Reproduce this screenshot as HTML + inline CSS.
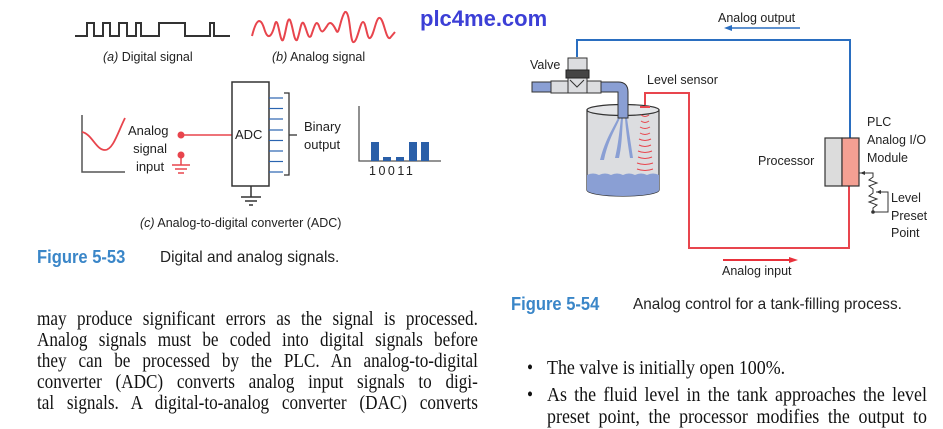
<!DOCTYPE html>
<html><head><meta charset="utf-8"><style>
body{margin:0;background:#fff;width:943px;height:422px;overflow:hidden;position:relative;font-family:"Liberation Sans",sans-serif}
.t{position:absolute;white-space:nowrap}
.s{font-family:"Liberation Sans",sans-serif;font-size:12.5px;color:#222}
.cap{font-family:"Liberation Sans",sans-serif;font-size:16px;color:#222;transform:scaleX(.96);transform-origin:left}
.fig{color:#3a86c8;font-weight:bold;font-size:18px;transform:scaleX(.92);transform-origin:left}
.bl{position:absolute;font-family:"Liberation Serif",serif;font-size:19.5px;color:#111;white-space:nowrap;transform:scaleX(.88);transform-origin:left}
.jl{width:501px;text-align:justify;text-align-last:justify}
</style></head><body>
<svg width="943" height="422" style="position:absolute;left:0;top:0">
<polyline fill="none" stroke="#333" stroke-width="2" points="75,36 87,36 87,23 94,23 94,36 103,36 103,23 110,23 110,36 119,36 119,23 127,23 127,36 136,36 136,23 141,23 141,36 159,36 159,23 185,23 185,36 210,36 210,23 214,23 214,36 230,36"/>
<path fill="none" stroke="#e8454d" stroke-width="2" d="M252,36 C256,20 260,16 264,28 C268,42 272,36 275,24 C278,14 280,44 283,40 C286,34 287,16 290,20 C293,26 294,42 297,40 C300,34 301,18 304,24 C307,30 308,40 311,36 C314,28 316,18 319,26 C322,36 324,30 327,26 C330,20 333,24 336,30 C339,38 340,18 345,12 C350,10 350,40 353,42 C357,44 360,22 363,22 C366,22 367,40 370,38 C374,36 376,16 380,18 C384,20 386,40 390,38 L395,32"/>
<polyline fill="none" stroke="#555" stroke-width="1.5" points="82,115 82,172 125,172"/>
<path fill="none" stroke="#e8454d" stroke-width="1.8" d="M82,132 C92,134 96,150 105,150 C113,150 118,132 125,118"/>
<circle cx="181" cy="135" r="3.5" fill="#e8454d"/><circle cx="181" cy="155" r="3.5" fill="#e8454d"/>
<line x1="181" y1="135" x2="232" y2="135" stroke="#e8454d" stroke-width="1.5"/>
<line x1="181" y1="155" x2="181" y2="165" stroke="#e8454d" stroke-width="1.5"/>
<g stroke="#e8454d" stroke-width="1.5"><line x1="172" y1="165" x2="190" y2="165"/><line x1="175" y1="169" x2="187" y2="169"/><line x1="178" y1="173" x2="184" y2="173"/></g>
<rect x="232" y="82" width="37" height="104" fill="#fff" stroke="#333" stroke-width="1.5"/>
<line x1="251" y1="186" x2="251" y2="197" stroke="#333" stroke-width="1.5"/>
<g stroke="#333" stroke-width="1.5"><line x1="241" y1="197" x2="261" y2="197"/><line x1="245" y1="201" x2="257" y2="201"/><line x1="249" y1="205" x2="253" y2="205"/></g>
<g stroke="#2a64b0" stroke-width="1.2"><line x1="269" y1="98" x2="283" y2="98"/><line x1="269" y1="108.5" x2="283" y2="108.5"/><line x1="269" y1="119" x2="283" y2="119"/><line x1="269" y1="130" x2="283" y2="130"/><line x1="269" y1="140.5" x2="283" y2="140.5"/><line x1="269" y1="151" x2="283" y2="151"/><line x1="269" y1="161.5" x2="283" y2="161.5"/><line x1="269" y1="172" x2="283" y2="172"/></g>
<polyline fill="none" stroke="#333" stroke-width="1.3" points="284,93 289,93 289,175 284,175"/>
<line x1="289" y1="135" x2="297" y2="135" stroke="#333" stroke-width="1.3"/>
<polyline fill="none" stroke="#555" stroke-width="1.3" points="359,106 359,161 441,161"/>
<g fill="#2a5fa8"><rect x="371" y="142" width="8" height="19"/><rect x="383" y="157" width="8" height="4"/><rect x="396" y="157" width="8" height="4"/><rect x="409" y="142" width="8" height="19"/><rect x="421" y="142" width="8" height="19"/></g>
<polyline fill="none" stroke="#2a6ec0" stroke-width="2" points="577,57 577,40 850,40 850,138"/>
<line x1="800" y1="28" x2="730" y2="28" stroke="#2a6ec0" stroke-width="1.5"/><polygon points="724,28 732,25 732,31" fill="#2a6ec0"/>
<polyline fill="none" stroke="#e8454d" stroke-width="2" points="849,186 849,248 689,248 689,93 645,93 645,105"/>
<line x1="723" y1="260" x2="792" y2="260" stroke="#e8313b" stroke-width="2"/><polygon points="798,260 789,257 789,263" fill="#e8313b"/>
<rect x="825" y="138" width="17" height="48" fill="#dcdcdc" stroke="#333" stroke-width="1.2"/>
<rect x="842" y="138" width="17" height="48" fill="#f4a093" stroke="#333" stroke-width="1.2"/>
<polyline fill="none" stroke="#333" stroke-width="1" points="859,173 873,173 873,177 869,180 877,183 869,186 873,189 873,193 869,196 877,199 869,202 877,205 873,208 873,212"/>
<polyline fill="none" stroke="#333" stroke-width="1" points="876,192 888,192 888,212 873,212"/>
<circle cx="873" cy="212" r="1.8" fill="#333"/>
<polygon points="860,173 865,171 865,175" fill="#333"/><polygon points="876,192 881,190 881,194" fill="#333"/>
<path d="M587,110 L587,190 A36,6 0 0 0 659,190 L659,110 Z" fill="#dcdde0" stroke="#333" stroke-width="1.2"/>
<path d="M587,175 Q593,172 599,175 Q605,172 611,175 Q617,172 623,175 Q629,172 635,175 Q641,172 647,175 Q653,172 659,175 L659,190 A36,6 0 0 1 587,190 Z" fill="#8a9fd4"/>
<ellipse cx="623" cy="110" rx="36" ry="5.5" fill="#e4e5e8" stroke="#333" stroke-width="1.2"/>
<g fill="#8a9fd4"><path d="M618,118 C612,130 605,140 600,160 L604,160 C608,140 616,128 620,118Z"/><path d="M621,118 C619,135 618,145 615,158 L619,158 C622,145 622,132 623,118Z"/><path d="M625,118 C626,132 628,145 630,158 L633,158 C631,145 629,132 627,118Z"/></g>
<g fill="none" stroke="#e8454d" stroke-width="1"><path d="M641,115 Q645,118 649,115"/><path d="M641,121 Q645,124 649,121"/><path d="M640,127 Q645,130 650,127"/><path d="M640,133 Q645,136 650,133"/><path d="M639,139 Q645,142 651,139"/><path d="M639,145 Q645,148 651,145"/><path d="M638,151 Q645,154 652,151"/><path d="M638,157 Q645,160 652,157"/><path d="M637,163 Q645,166 653,163"/><path d="M637,169 Q645,172 653,169"/></g>
<line x1="640" y1="107" x2="650" y2="107" stroke="#e8454d" stroke-width="2"/>
<path d="M532,82 L618,82 Q628,82 628,92 L628,118 L618,118 L618,92 L532,92 Z" fill="#8a9fd4" stroke="#333" stroke-width="1"/>
<rect x="551" y="81" width="50" height="12" fill="#dcdde0" stroke="#333" stroke-width="1"/>
<rect x="568" y="58" width="19" height="35" fill="#dcdde0" stroke="#333" stroke-width="1"/>
<rect x="566" y="70" width="23" height="8" fill="#444" stroke="#222"/>
<polyline fill="none" stroke="#333" points="570,80 577,87 584,80"/>
</svg>
<div class="t" style="left:420px;top:6px;font-size:22px;font-weight:bold;color:#3c3fd6">plc4me.com</div>
<div class="t s" style="left:103px;top:50px"><i>(a)</i> Digital signal</div>
<div class="t s" style="left:272px;top:50px"><i>(b)</i> Analog signal</div>
<div class="t s" style="left:128px;top:122px;text-align:center;line-height:18px;font-size:13px">Analog<br>&nbsp;signal<br>&nbsp;input</div>
<div class="t s" style="left:235px;top:127px;font-size:13px">ADC</div>
<div class="t s" style="left:304px;top:118px;line-height:18px;font-size:13px">Binary<br>output</div>
<div class="t s" style="left:369px;top:164px;letter-spacing:2.5px">10011</div>
<div class="t s" style="left:140px;top:216px"><i>(c)</i> Analog-to-digital converter (ADC)</div>
<div class="t" style="left:37px;top:247px"><span class="fig" style="display:inline-block">Figure 5-53</span></div>
<div class="t cap" style="left:160px;top:249px">Digital and analog signals.</div>
<div class="t s" style="left:718px;top:11px">Analog output</div>
<div class="t s" style="left:530px;top:58px">Valve</div>
<div class="t s" style="left:647px;top:73px">Level sensor</div>
<div class="t s" style="left:758px;top:154px">Processor</div>
<div class="t s" style="left:867px;top:113px;line-height:18px">PLC<br>Analog I/O<br>Module</div>
<div class="t s" style="left:891px;top:190px;line-height:17.5px">Level<br>Preset<br>Point</div>
<div class="t s" style="left:722px;top:264px">Analog input</div>
<div class="t" style="left:511px;top:294px"><span class="fig" style="display:inline-block">Figure 5-54</span></div>
<div class="t cap" style="left:633px;top:296px">Analog control for a tank-filling process.</div>
<div class="bl jl" style="left:37px;top:309px">may produce significant errors as the signal is processed.</div>
<div class="bl jl" style="left:37px;top:330px">Analog signals must be coded into digital signals before</div>
<div class="bl jl" style="left:37px;top:351px">they can be processed by the PLC. An analog-to-digital</div>
<div class="bl jl" style="left:37px;top:372px">converter (ADC) converts analog input signals to digi-</div>
<div class="bl jl" style="left:37px;top:393px">tal signals. A digital-to-analog converter (DAC) converts</div>
<div class="bl" style="left:527px;top:358px">•</div>
<div class="bl" style="left:547px;top:358px;transform:scaleX(.92)">The valve is initially open 100%.</div>
<div class="bl" style="left:527px;top:385px">•</div>
<div class="bl jl" style="left:547px;top:385px;width:413px;transform:scaleX(.92)">As the fluid level in the tank approaches the level</div>
<div class="bl jl" style="left:547px;top:407px;width:413px;transform:scaleX(.92)">preset point, the processor modifies the output to</div>
</body></html>
